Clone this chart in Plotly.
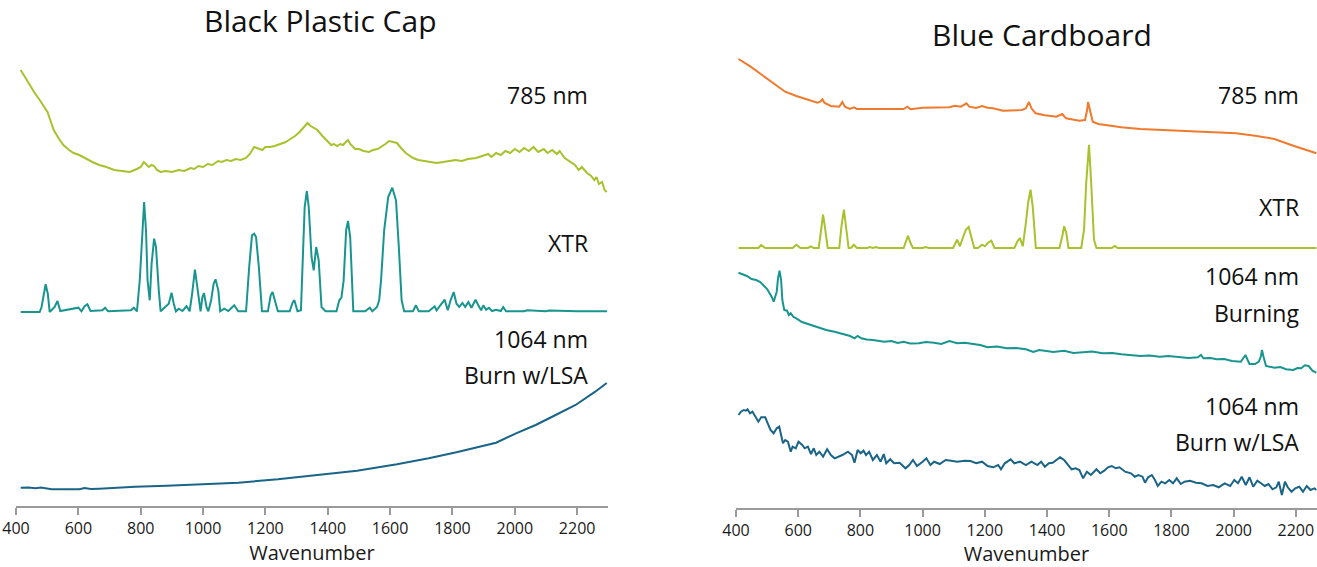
import plotly.graph_objects as go

# ---------------- Black Plastic Cap ----------------
cap_785_wn = [415, 430, 445, 460, 476, 490, 501, 511, 521, 536, 552, 570, 585, 603, 625, 645, 667,
              690, 715, 743, 765, 788, 800, 810, 818, 826, 835, 843, 852, 864, 880, 900, 922, 940,
              960, 972, 985, 1000, 1015, 1030, 1048, 1060, 1075, 1090, 1105, 1120, 1138, 1150, 1164,
              1175, 1190, 1200, 1215, 1230, 1245, 1265, 1280, 1295, 1310, 1325, 1335, 1345, 1356,
              1367, 1380, 1395, 1411, 1420, 1430, 1440, 1449, 1458, 1465, 1472, 1480, 1488, 1500,
              1515, 1532, 1545, 1560, 1571, 1585, 1597, 1610, 1622, 1635, 1650, 1674, 1690, 1710,
              1730, 1749, 1770, 1790, 1810, 1830, 1850, 1876, 1900, 1915, 1925, 1940, 1955, 1970,
              1985, 2000, 2015, 2030, 2045, 2060, 2075, 2093, 2105, 2120, 2135, 2144, 2160, 2175,
              2193, 2205, 2215, 2232, 2245, 2255, 2262, 2270, 2280, 2288, 2295]
cap_785_int = [136, 128, 120, 113, 106, 99, 94, 85, 76, 68, 61, 56, 53, 51, 47, 44, 41,
               39, 36, 35, 34, 37, 39, 44, 41, 39, 41, 40, 36, 34, 35, 34, 36, 35,
               38, 37, 40, 39, 42, 41, 45, 44, 46, 45, 47, 46, 48, 52, 59,
               58, 56, 59, 59, 60, 62, 64, 67, 70, 74, 79, 83, 80, 78,
               76, 71, 66, 61, 62, 60, 62, 61, 64, 66, 62, 59, 57, 57,
               55, 54, 56, 57, 59, 62, 65, 64, 63, 58, 53, 48, 46, 45,
               44, 43, 44, 45, 46, 45, 47, 48, 50, 52, 49, 53, 51, 55,
               53, 57, 54, 58, 55, 59, 54, 57, 53, 56, 52, 55, 48, 45,
               41, 36, 39, 33, 30, 26, 29, 22, 24, 16, 14]

cap_xtr_wn = [415, 476, 482, 489, 495, 502, 508, 524, 533, 542, 591, 600, 610, 620, 629, 639,
              677, 686, 695, 769, 778, 788, 797, 805, 811, 817, 822, 829, 835, 843, 849, 858, 864,
              890, 899, 906, 913, 922, 934, 947, 957, 965, 974, 983, 992, 998, 1003, 1011, 1017,
              1026, 1034, 1040, 1049, 1055, 1068, 1081, 1100, 1113, 1138, 1148, 1157, 1164, 1170,
              1179, 1189, 1208, 1217, 1223, 1231, 1240, 1278, 1288, 1293, 1303, 1314, 1320, 1326,
              1333, 1339, 1348, 1355, 1363, 1371, 1380, 1393, 1428, 1437, 1444, 1451, 1459, 1465,
              1472, 1482, 1520, 1535, 1543, 1558, 1565, 1571, 1581, 1594, 1607, 1619, 1628, 1637,
              1645, 1673, 1683, 1692, 1724, 1743, 1749, 1764, 1775, 1785, 1794, 1804, 1813, 1822,
              1832, 1841, 1851, 1861, 1874, 1883, 1892, 1899, 1908, 1917, 1927, 1940, 1955, 1963,
              1972, 2030, 2040, 2100, 2110, 2200, 2296]
cap_xtr_int = [0, 0, 5, 18.3, 27.7, 18.3, 0, 5, 11, 1, 3.3, 4.3, 0.7, 5.7, 7.7, 1,
               1.7, 4.3, 0.7, 1.7, 4.3, 0.7, 31.7, 81.7, 110, 81.7, 31.7, 11.7, 48.3, 73.3, 65, 21.7, 0.7,
               8.3, 19.3, 8.3, 0.7, 3.3, 1, 5.7, 0.7, 18.3, 42.3, 21.7, 0.7, 15, 19, 5, 0.7,
               11.7, 28.3, 32.7, 21.7, 0.7, 3.3, 1, 6.7, 0.7, 0.7, 45, 76.7, 78.3, 75,
               45, 0.7, 0.7, 16.7, 20, 11.7, 0.7, 0.7, 10, 11.7, 0.7, 1.7, 48.3, 105,
               121, 105, 55, 41.7, 65, 51.7, 5, 0.7, 0.7, 11.7, 14.3, 31.7, 81.7, 91,
               75, 0.7, 0.7, 4.3, 0.7, 5, 11.7, 31.7, 81.7, 115, 124.3, 111.7, 65, 11.7,
               0.7, 0.7, 6.7, 0.7, 0.7, 5.7, 1.7, 8.3, 12.3, 1.7, 11.7, 20, 8.3, 5,
               9, 5, 10, 4.3, 12.3, 6.7, 1.7, 6.7, 2.3, 4.3, 1, 2.3, 1, 5,
               0.7, 0.7, 1.7, 0.7, 1.5, 0.7, 0.7]

cap_1064_wn = [415, 440, 463, 480, 514, 550, 603, 620, 640, 667, 700, 782, 883, 985, 1113, 1240,
               1367, 1494, 1622, 1724, 1813, 1876, 1940, 2004, 2067, 2131, 2195, 2258, 2295]
cap_1064_int = [18.3, 18.5, 17.7, 18.5, 16.7, 16.5, 16.7, 18, 17, 17.3, 18, 19.3, 20.3, 21.7, 23.3, 26.7,
                30.7, 35.3, 41.7, 47.7, 53.7, 58.3, 63.3, 72.7, 81, 91, 101, 114.3, 123]

# ---------------- Blue Cardboard ----------------
card_785_wn = [408, 447, 484, 521, 558, 594, 631, 662, 671, 678, 684, 705, 732, 742, 750, 766, 779,
               789, 840, 939, 951, 961, 1000, 1086, 1104, 1123, 1141, 1150, 1172, 1191, 1209, 1227,
               1258, 1295, 1319, 1332, 1342, 1350, 1363, 1393, 1430, 1449, 1461, 1504, 1522, 1529,
               1532, 1538, 1547, 1565, 1639, 1700, 1823, 1946, 2008, 2069, 2131, 2192, 2241, 2266]
card_785_int = [99, 91.3, 83, 74.7, 66.3, 62, 58, 55.3, 56.3, 58.7, 55.3, 52, 51.3, 56, 51.3, 49, 50.7,
                49, 49, 49, 51.3, 48.7, 50.3, 50.7, 52.3, 51.3, 54.7, 51.3, 50, 52, 50.3, 49.7,
                47.3, 47.3, 48, 49.7, 56, 49.7, 44.7, 42.7, 41.3, 44, 39.7, 37.3, 38, 48,
                56, 48, 36.3, 34, 30.7, 29, 27.3, 25.3, 24.7, 22.3, 19, 12.3, 7, 4.7]

card_xtr_wn = [408, 472, 481, 494, 582, 594, 607, 631, 641, 650, 666, 674, 680, 687, 695, 732, 739,
               747, 754, 762, 769, 779, 789, 822, 830, 840, 850, 859, 939, 946, 953, 961, 969, 1000,
               1010, 1020, 1098, 1111, 1120, 1129, 1139, 1148, 1156, 1166, 1178, 1191, 1200, 1209,
               1221, 1231, 1295, 1305, 1313, 1322, 1332, 1339, 1347, 1354, 1364, 1440, 1449, 1455,
               1462, 1469, 1510, 1519, 1526, 1535, 1542, 1551, 1559, 1608, 1618, 1627, 2266]
card_xtr_int = [0, 0, 3, 0, 0, 3.3, 0, 0, 1.7, 0, 0, 18.3, 33.3, 18.3, 0, 0, 21.7,
                38.3, 18.3, 0, 0, 3.3, 0, 0, 1, 0, 1, 0, 0, 6.7, 12.3, 5, 0, 0,
                1, 0, 0, 8.3, 1.7, 10, 18.3, 21, 11.7, 0, 0, 3.3, 1.7, 5,
                7.3, 0, 0, 6.7, 10, 1.7, 25, 45, 58.3, 41.7, 0, 0, 11.7, 21.7,
                15, 0, 0, 18.3, 65, 103.3, 65, 8.3, 0, 0, 2, 0, 0]

card_burn_wn = [408, 420, 435, 450, 465, 478, 490, 500, 508, 515, 521, 531, 535, 540, 545, 549, 555,
                564, 570, 576, 585, 594, 612, 631, 650, 668, 690, 717, 740, 767, 781, 791, 803, 820,
                840, 858, 877, 900, 920, 939, 960, 988, 1010, 1037, 1060, 1086, 1111, 1135, 1160,
                1185, 1209, 1240, 1270, 1300, 1332, 1356, 1375, 1393, 1420, 1455, 1485, 1516, 1545,
                1578, 1610, 1639, 1670, 1700, 1730, 1762, 1790, 1823, 1855, 1885, 1895, 1903, 1925,
                1946, 1970, 1995, 2023, 2032, 2038, 2045, 2051, 2069, 2081, 2088, 2091, 2096, 2104,
                2131, 2150, 2168, 2192, 2205, 2217, 2229, 2241, 2254, 2266]
card_burn_int = [105.3, 104, 102, 99, 98, 96, 92, 89, 84.7, 81, 76.3, 86.3, 99.7, 107.3, 98, 78, 68,
                 67.3, 63, 64.7, 61, 59.7, 56, 54, 52, 49.7, 48, 46.3, 44, 42, 39.7, 42, 39.7, 38.5,
                 38, 37, 36.3, 37, 35, 36.3, 34.5, 34.7, 36, 35.3, 34, 37, 34.7, 35.3, 34,
                 33, 30.7, 31.5, 29.7, 30, 28.7, 26, 28, 27.3, 26, 27.3, 25, 25.7, 26.5,
                 24.7, 25, 23.7, 23, 22, 22.5, 21.3, 22, 21.3, 20, 20.7, 23, 19.7, 20,
                 18.7, 19, 17, 16.3, 20.3, 23, 18, 14, 14, 16.3, 22, 28, 21.3, 12,
                 10.3, 11, 8.7, 8, 10, 9.7, 12.7, 12, 7, 5.3]

card_lsa_wn = [408, 416, 425, 432, 437, 445, 453, 465, 472, 481, 494, 502, 511, 521, 531, 539, 545,
               551, 558, 567, 576, 582, 592, 601, 613, 621, 631, 641, 650, 658, 668, 680, 693, 705,
               717, 730, 742, 760, 773, 781, 791, 801, 810, 818, 828, 840, 853, 865, 875, 883, 896,
               908, 926, 945, 957, 969, 982, 1000, 1012, 1025, 1037, 1055, 1074, 1092, 1111, 1135,
               1154, 1172, 1191, 1209, 1227, 1243, 1252, 1264, 1283, 1295, 1313, 1332, 1350, 1369,
               1381, 1393, 1406, 1418, 1430, 1442, 1455, 1467, 1479, 1492, 1504, 1516, 1528, 1541,
               1559, 1571, 1584, 1596, 1608, 1621, 1633, 1651, 1670, 1682, 1694, 1707, 1715, 1725,
               1737, 1747, 1756, 1768, 1780, 1793, 1805, 1817, 1830, 1842, 1860, 1879, 1897, 1916,
               1934, 1952, 1971, 1989, 2002, 2014, 2026, 2039, 2051, 2063, 2076, 2088, 2100, 2112,
               2125, 2137, 2145, 2155, 2165, 2174, 2186, 2198, 2211, 2223, 2235, 2247, 2260, 2266]
card_lsa_int = [93, 96.3, 98, 97.3, 98.7, 94.7, 96.3, 89.7, 86.3, 90.7, 90.7, 84.7, 78, 74.7, 79.7, 81.3, 73,
                64.7, 68, 66.3, 56.3, 61.3, 59.7, 66.3, 63, 59.7, 61.3, 54, 59.7, 53, 56.3, 51.3, 58.7, 53,
                49.7, 51.3, 53, 56.3, 53, 45.3, 58, 54.7, 57.3, 53, 56.3, 48, 53, 46.3, 54, 44.7, 48.7,
                44.7, 45.3, 39.7, 43, 48, 42, 46.3, 49.7, 43, 46.3, 44, 48, 47.3, 46.3, 47.3,
                47, 44.7, 46.3, 42, 40.7, 43, 38.7, 44.7, 48.7, 44.7, 46.3, 43, 46.3, 43,
                46.3, 41.3, 44.7, 45.3, 48, 50.7, 48, 43, 38.7, 39.7, 38, 29.7, 36.3, 33,
                38.7, 34.7, 37.3, 40.7, 42, 39.7, 40.7, 36.3, 34.7, 31.3, 33, 31.3, 25.3, 30.7,
                33, 28, 22, 26.3, 24.7, 28, 24.7, 29.7, 24, 26.3, 27.3, 25.3, 24.7, 22,
                23, 20.7, 24.7, 22, 28, 24.7, 31.3, 23, 30.7, 21.3, 27.3, 24.7, 22, 24,
                18.7, 20.7, 26.3, 13, 26.3, 20.7, 16.3, 19.7, 21.3, 16.3, 22, 18, 19.7, 18]

tick_vals = [400, 600, 800, 1000, 1200, 1400, 1600, 1800, 2000, 2200]

# stacking offsets (vertical placement of each spectrum)
OFF = {"cap785": 300, "capxtr": 194, "cap1064": 0,
       "card785": 350, "cardxtr": 260, "cardburn": 130, "cardlsa": 0}

GREEN = "#a9c12c"
TEAL = "#18958f"
DARKBLUE = "#1a6587"
ORANGE = "#ef7a2d"
FONT = "Open Sans"

fig = go.Figure()


def add(wn, inten, off, color, xa, ya):
    fig.add_trace(go.Scatter(x=wn, y=[v + off for v in inten], mode="lines",
                             line=dict(color=color, width=2), xaxis=xa, yaxis=ya,
                             hoverinfo="skip", showlegend=False))


add(cap_785_wn, cap_785_int, OFF["cap785"], GREEN, "x", "y")
add(cap_xtr_wn, cap_xtr_int, OFF["capxtr"], TEAL, "x", "y")
add(cap_1064_wn, cap_1064_int, OFF["cap1064"], DARKBLUE, "x", "y")
add(card_785_wn, card_785_int, OFF["card785"], ORANGE, "x2", "y2")
add(card_xtr_wn, card_xtr_int, OFF["cardxtr"], GREEN, "x2", "y2")
add(card_burn_wn, card_burn_int, OFF["cardburn"], TEAL, "x2", "y2")
add(card_lsa_wn, card_lsa_int, OFF["cardlsa"], DARKBLUE, "x2", "y2")

axis_common = dict(showline=True, linecolor="#9a9a9a", linewidth=1.5, ticks="outside",
                   ticklen=7, tickwidth=1.5, tickcolor="#9a9a9a", showgrid=False,
                   zeroline=False, tickvals=tick_vals,
                   tickfont=dict(family=FONT, size=16, color="#1a1a1a"),
                   title=dict(text="Wavenumber", font=dict(family=FONT, size=20, color="#1a1a1a"),
                              standoff=2))

fig.update_layout(
    width=1317, height=567,
    margin=dict(l=0, r=0, t=0, b=0, autoexpand=False),
    paper_bgcolor="white", plot_bgcolor="white",
    xaxis=dict(domain=[16 / 1317, 608 / 1317], range=[400, 2299], anchor="y", **axis_common),
    xaxis2=dict(domain=[736 / 1317, 1.0], range=[400, 2268], anchor="y2", **axis_common),
    yaxis=dict(domain=[61 / 567, 1], range=[0, 506], visible=False),
    yaxis2=dict(domain=[59 / 567, 1], range=[0, 508], visible=False),
)

labels_left = [("785 nm", 411), ("XTR", 263), ("1064 nm", 167), ("Burn w/LSA", 131)]
labels_right = [("785 nm", 413), ("XTR", 301), ("1064 nm", 232), ("Burning", 195),
                ("1064 nm", 102), ("Burn w/LSA", 66)]
for txt, yv in labels_left:
    fig.add_annotation(x=2241, y=yv, xref="x", yref="y", text=txt, showarrow=False,
                       xanchor="right", yanchor="middle",
                       font=dict(family=FONT, size=23, color="#111111"))
for txt, yv in labels_right:
    fig.add_annotation(x=2218, y=yv, xref="x2", yref="y2", text=txt, showarrow=False,
                       xanchor="right", yanchor="middle",
                       font=dict(family=FONT, size=23, color="#111111"))

fig.add_annotation(x=320 / 1317, y=1 - 20 / 567, xref="paper", yref="paper",
                   text="Black Plastic Cap", showarrow=False, xanchor="center", yanchor="middle",
                   font=dict(family=FONT, size=30, color="#111111"))
fig.add_annotation(x=1042 / 1317, y=1 - 34 / 567, xref="paper", yref="paper",
                   text="Blue Cardboard", showarrow=False, xanchor="center", yanchor="middle",
                   font=dict(family=FONT, size=30, color="#111111"))

fig.write_html("out.html", config={"displayModeBar": False},
               post_script="document.body.style.margin='0';document.body.style.overflow='hidden';")
